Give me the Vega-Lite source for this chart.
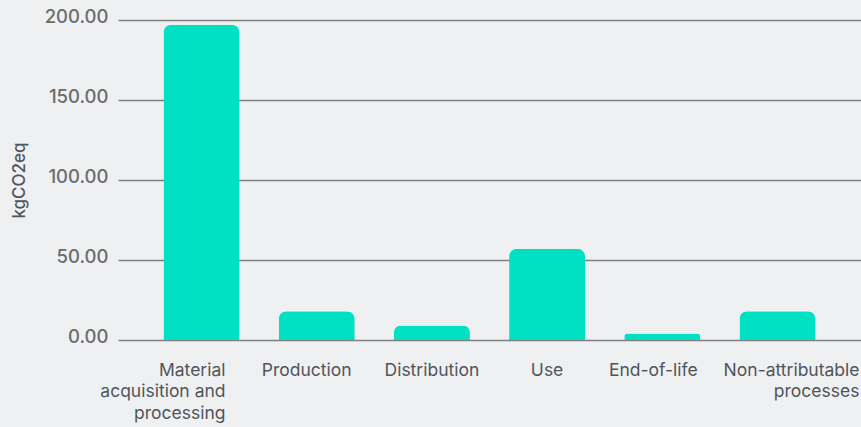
{
  "$schema": "https://vega.github.io/schema/vega-lite/v6.json",
  "width": 743,
  "height": 320,
  "autosize": "none",
  "padding": {"left": 118, "top": 20, "right": 0, "bottom": 87},
  "background": "#eff0f2",
  "data": {
    "values": [
      {"stage": "Material acquisition and processing", "value": 197},
      {"stage": "Production", "value": 18},
      {"stage": "Distribution", "value": 9},
      {"stage": "Use", "value": 57},
      {"stage": "End-of-life", "value": 4},
      {"stage": "Non-attributable processes", "value": 18}
    ]
  },
  "mark": {"type": "bar", "color": "#00e0c2", "cornerRadiusTopLeft": 8, "cornerRadiusTopRight": 8},
  "encoding": {
    "x": {
      "field": "stage",
      "type": "nominal",
      "sort": null,
      "scale": {"paddingInner": 0.34, "paddingOuter": 0.395},
      "axis": {
        "title": null,
        "domain": false,
        "ticks": false,
        "grid": false,
        "labelAngle": 0,
        "labelFont": "Inter",
        "labelFontSize": 17.5,
        "labelColor": "#50555c",
        "labelPadding": 21,
        "labelBaseline": "top",
        "labelLineHeight": 21.5,
        "labelOverlap": false,
        "labelBound": false,
        "labelLimit": 300,
        "labelExpr": "datum.value == 'Material acquisition and processing' ? ['Material', 'acquisition and', 'processing'] : datum.value == 'Non-attributable processes' ? ['Non-attributable', 'processes'] : datum.value",
        "labelAlign": {
          "condition": {"test": "datum.value == 'Material acquisition and processing' || datum.value == 'Non-attributable processes'", "value": "right"},
          "value": "center"
        },
        "labelOffset": {
          "condition": [
            {"test": "datum.value == 'Material acquisition and processing'", "value": 24},
            {"test": "datum.value == 'Non-attributable processes'", "value": 82},
            {"test": "datum.value == 'Production'", "value": -10},
            {"test": "datum.value == 'End-of-life'", "value": -9}
          ],
          "value": 0
        }
      }
    },
    "y": {
      "field": "value",
      "type": "quantitative",
      "scale": {"domain": [0, 200], "nice": false},
      "axis": {
        "title": "kgCO2eq",
        "titleFont": "Inter",
        "titleFontSize": 17,
        "titleFontWeight": 500,
        "titleColor": "#50555c",
        "titlePadding": 16,
        "values": [0, 50, 100, 150, 200],
        "format": ".2f",
        "domain": false,
        "ticks": false,
        "grid": true,
        "gridColor": "#7f7f7f",
        "gridWidth": 1.4,
        "labelFont": "Inter",
        "labelFontSize": 18.5,
        "labelFontWeight": 500,
        "labelColor": "#6b6b6b",
        "labelPadding": 10,
        "labelOffset": -4
      }
    }
  },
  "config": {"view": {"stroke": null}}
}
